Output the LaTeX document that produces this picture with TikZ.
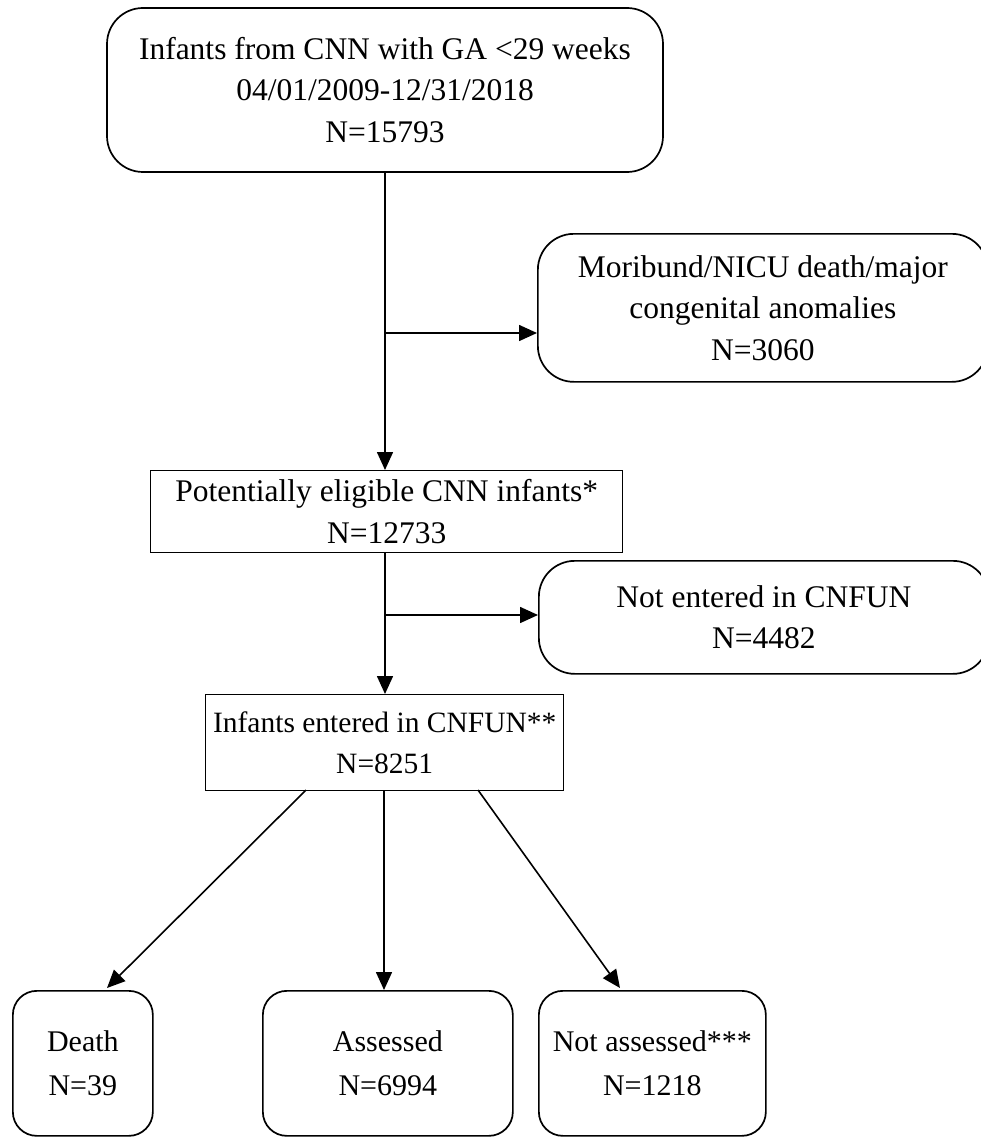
\documentclass[tikz,border=0pt]{standalone}
\usepackage{fontspec}
\setmainfont{Liberation Serif}
\usetikzlibrary{arrows.meta}
\begin{document}
\begin{tikzpicture}[x=1pt,y=-1pt,
  box/.style={draw,line width=1.4pt,align=center,inner sep=0pt,
    font=\fontsize{31.5}{41.5}\selectfont},
  rbox/.style={box,line width=1.7pt,rounded corners=36pt},
  sbox/.style={rbox,rounded corners=24pt,font=\fontsize{30}{44}\selectfont},
  conn/.style={line width=1.6pt,-{Triangle[length=18pt,width=16pt]}}]
\useasboundingbox (0,0) rectangle (981,1142);
% boxes
\node[rbox,minimum width=556,minimum height=164] (top) at (385,90)
  {Infants from CNN with GA <29 weeks\\04/01/2009-12/31/2018\\N=15793};
\node[rbox,minimum width=450,minimum height=148,anchor=north west] (mor) at (537,233)
  {Moribund/NICU death/major\\congenital anomalies\\N=3060};
\node[box,minimum width=472,minimum height=82,anchor=north west] (elig) at (150,470)
  {Potentially eligible CNN infants*\\N=12733};
\node[rbox,minimum width=450,minimum height=113,anchor=north west] (notent) at (538,560)
  {Not entered in CNFUN\\N=4482};
\node[box,minimum width=358,minimum height=96,anchor=north west,
  font=\fontsize{29.5}{41.5}\selectfont] (entered) at (205,694)
  {Infants entered in CNFUN**\\N=8251};
\node[sbox,minimum width=140,minimum height=145,anchor=north west] (death) at (12,990)
  {Death\\N=39};
\node[sbox,minimum width=250,minimum height=145,anchor=north west] (ass) at (262,990)
  {Assessed\\N=6994};
\node[sbox,minimum width=227,minimum height=145,anchor=north west] (nass) at (538,990)
  {Not assessed***\\N=1218};
% connectors
\coordinate (b1) at (385,333);
\coordinate (b2) at (385,615);
\draw[conn] (top.south -| b1) -- (elig.north -| b1);
\draw[conn] (b1) -- (b1 -| mor.west);
\draw[conn] (elig.south -| b2) -- (entered.north -| b2);
\draw[conn] (b2) -- (b2 -| notent.west);
\coordinate (s1) at (306,790);
\coordinate (s2) at (384,790);
\coordinate (s3) at (478,790);
\coordinate (t1) at (107,988);
\coordinate (t3) at (620,988);
\draw[conn] (s1) -- (t1);
\draw[conn] (s2) -- (s2 |- ass.north);
\draw[conn] (s3) -- (t3);
\end{tikzpicture}
\end{document}
